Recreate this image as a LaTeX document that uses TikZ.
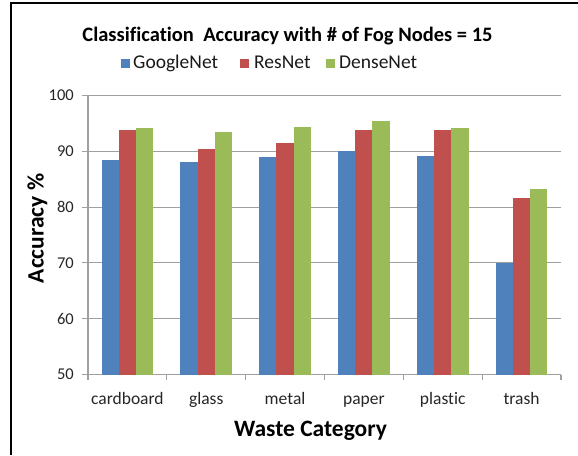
\documentclass[tikz,border=0pt]{standalone}
\usepackage{fontspec}
\setmainfont{Carlito}[Ligatures=NoCommon]
\definecolor{gnetblue}{HTML}{4F81BD}
\definecolor{rnetred}{HTML}{C0504D}
\definecolor{dnetgreen}{HTML}{9BBB59}
\definecolor{gridgray}{HTML}{A0A0A0}
\begin{document}
\begin{tikzpicture}[
    x=1pt, y=-1pt,
    grid/.style={draw=gridgray, line width=1.1pt},
    ticklab/.style={font=\fontsize{16.5}{19}\selectfont, inner sep=0pt, text=black!85},
    catlab/.style={font=\fontsize{17.5}{20}\selectfont, inner sep=0pt, anchor=base, text=black!85},
    leglab/.style={font=\fontsize{19.5}{23}\selectfont, inner sep=0pt, anchor=base west, text=black!90},
    axtitle/.style={font=\fontsize{23.5}{27}\selectfont\bfseries, inner sep=0pt, anchor=base}
  ]
    \useasboundingbox (0,0) rectangle (578,455);
    \draw[line width=1.5pt] (11,455) -- (11,3) -- (578,3);

    \node[font=\fontsize{20.5}{24}\selectfont\bfseries, inner sep=0pt, anchor=base]
      (title) at (287.5,41) {Classification\ \ Accuracy with \# of Fog Nodes = 15};

    % legend
    \fill[gnetblue] (121,59) rectangle (130,67.5);
    \node[leglab] (leg1) at (133,68.5) {GoogleNet};
    \fill[rnetred] (240,59) rectangle (248.5,67.5);
    \node[leglab] (leg2) at (254,68.5) {ResNet};
    \fill[dnetgreen] (326,59) rectangle (334.5,67.5);
    \node[leglab] (leg3) at (339,68.5) {DenseNet};

    % grid and axes
    \foreach \v in {50,60,...,100} {
      \draw[grid] (82,{374.5-5.58*(\v-50)}) -- (561,{374.5-5.58*(\v-50)});
      \node[ticklab, anchor=east] (y\v) at (74,{374.5-5.58*(\v-50)}) {\v};
    }
    \draw[grid] (88,95.5) -- (88,374.5);
    \foreach \k in {0,...,6}
      \draw[grid] (88+78.83*\k,374.5) -- (88+78.83*\k,379.5);

    % bars
    \foreach \cat/\g/\r/\d [count=\i from 0] in {cardboard/88.4/93.8/94.2,
        glass/88.0/90.4/93.5, metal/88.9/91.4/94.3, paper/90.0/93.8/95.5,
        plastic/89.2/93.8/94.2, trash/70.0/81.6/83.3} {
      \pgfmathsetmacro\cx{127.4+78.83*\i}
      \fill[gnetblue] (\cx-25.8,374.5) rectangle (\cx-8.6,{374.5-5.58*(\g-50)});
      \fill[rnetred] (\cx-8.6,374.5) rectangle (\cx+8.6,{374.5-5.58*(\r-50)});
      \fill[dnetgreen] (\cx+8.6,374.5) rectangle (\cx+25.8,{374.5-5.58*(\d-50)});
      \node[catlab] (cat\i) at (\cx,404) {\cat};
    }

    \node[axtitle] (xtitle) at (310.5,436) {Waste Category};
    \node[axtitle, rotate=90] (ytitle) at (43.5,228.5) {Accuracy \%};
  \end{tikzpicture}
\end{document}
